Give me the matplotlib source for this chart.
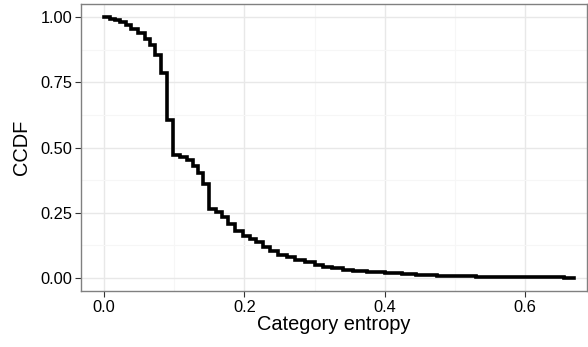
import numpy as np
import matplotlib
matplotlib.use("Agg")
import matplotlib.pyplot as plt
from matplotlib.ticker import MultipleLocator

# step points of the CCDF
entropy = [0.000, 0.0085, 0.016, 0.023, 0.031, 0.039, 0.049, 0.058, 0.065, 0.073,
           0.081, 0.090, 0.099, 0.108, 0.118, 0.127, 0.134, 0.141, 0.150, 0.159,
           0.168, 0.177, 0.186, 0.198, 0.208, 0.217, 0.227, 0.236, 0.248, 0.260,
           0.272, 0.286, 0.300, 0.312, 0.325, 0.340, 0.355, 0.375, 0.400, 0.425,
           0.445, 0.475, 0.502, 0.530, 0.564, 0.600, 0.630, 0.655, 0.670]
ccdf = [1.000, 0.994, 0.988, 0.980, 0.970, 0.955, 0.937, 0.917, 0.893, 0.855,
        0.785, 0.607, 0.473, 0.465, 0.452, 0.430, 0.403, 0.362, 0.263, 0.251,
        0.232, 0.206, 0.181, 0.161, 0.149, 0.136, 0.117, 0.104, 0.089, 0.079,
        0.069, 0.060, 0.051, 0.043, 0.037, 0.031, 0.027, 0.022, 0.018, 0.014,
        0.011, 0.008, 0.0065, 0.005, 0.004, 0.003, 0.002, 0.001, 0.000]

xticks = [0.0, 0.2, 0.4, 0.6]
yticks = [0.00, 0.25, 0.50, 0.75, 1.00]

plt.rcParams['font.family'] = ['Liberation Sans', 'DejaVu Sans']

fig = plt.figure(figsize=(5.88, 3.47), dpi=100)
ax = fig.add_axes([81/588, 1 - 291/347, 506/588, 287/347])

ax.plot(entropy, ccdf, drawstyle="steps-post", color="black", lw=2.6,
        solid_joinstyle="miter", zorder=3)

ax.set_xlim(-0.0327, 0.688)
ax.set_ylim(-0.05, 1.05)
ax.set_xticks(xticks)
ax.set_yticks(yticks)
ax.set_xticklabels(["%.1f" % v for v in xticks])
ax.set_yticklabels(["%.2f" % v for v in yticks])
ax.xaxis.set_minor_locator(MultipleLocator(0.1))
ax.yaxis.set_minor_locator(MultipleLocator(0.125))

# theme_bw look
ax.grid(which="major", color="#e8e8e8", lw=1.0, zorder=0)
ax.grid(which="minor", color="#f6f6f6", lw=0.8, zorder=0)
ax.set_axisbelow(True)
for s in ax.spines.values():
    s.set_color("#808080")
    s.set_linewidth(1.0)
ax.tick_params(which="major", direction="out", length=4.3, width=0.8,
               color="#333333", labelsize=11.8, labelcolor="black", pad=2)
ax.tick_params(which="minor", length=0)

ax.set_xlabel("Category entropy", fontsize=14.4, labelpad=0)
ax.set_ylabel("CCDF", fontsize=14.4, labelpad=7)

fig.savefig("out.png", dpi=100)
